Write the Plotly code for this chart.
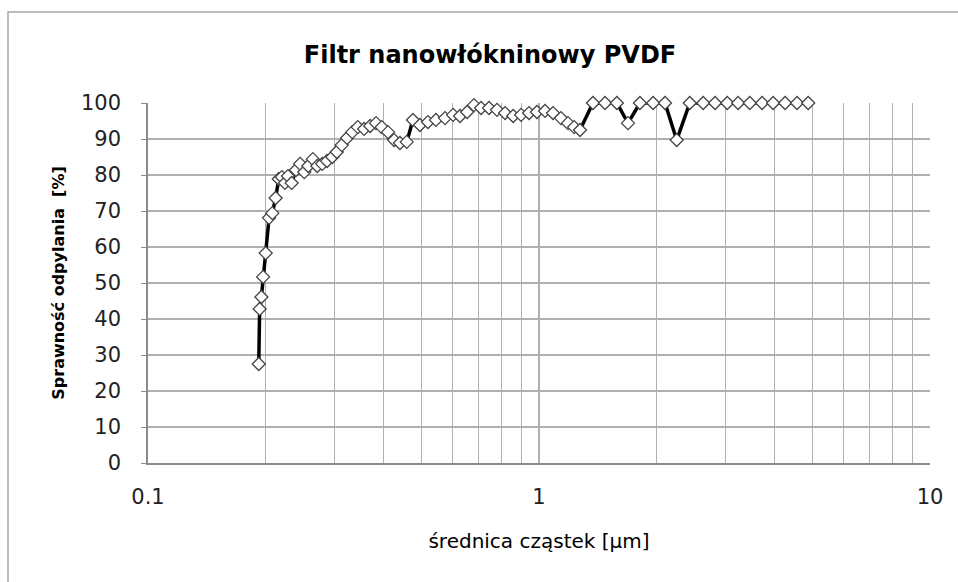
import plotly.graph_objects as go

title_text = "Filtr nanowłókninowy PVDF"
x_title = "średnica cząstek [µm]"
y_title = "Sprawność odpylania  [%]"

diameter_um = [
    0.192, 0.193, 0.195, 0.197, 0.200, 0.204, 0.208, 0.212, 0.216, 0.220,
    0.224, 0.228, 0.233, 0.239, 0.245, 0.251, 0.257, 0.264, 0.271, 0.279,
    0.287, 0.296, 0.304, 0.313, 0.323, 0.333, 0.344, 0.357, 0.370, 0.383,
    0.396, 0.411, 0.426, 0.441, 0.459, 0.476, 0.496, 0.520, 0.545, 0.575,
    0.603, 0.628, 0.655, 0.682, 0.711, 0.745, 0.781, 0.819, 0.859, 0.900,
    0.943, 0.988, 1.036, 1.086, 1.138, 1.186, 1.230, 1.273, 1.374, 1.475,
    1.582, 1.689, 1.812, 1.958, 2.10, 2.25, 2.43, 2.63, 2.82, 3.03,
    3.23, 3.46, 3.72, 3.97, 4.26, 4.57, 4.88,
]
efficiency_pct = [
    27.5, 42.8, 46.1, 51.7, 58.3, 68.1, 69.4, 73.6, 78.9, 79.4,
    77.8, 79.7, 77.8, 81.4, 83.1, 80.8, 82.5, 84.4, 82.5, 83.1,
    83.9, 85.0, 86.4, 88.3, 90.3, 91.9, 93.3, 92.8, 93.6, 94.4,
    93.3, 91.9, 89.7, 88.9, 89.2, 95.3, 93.9, 94.7, 95.3, 95.8,
    96.7, 96.4, 97.5, 99.4, 98.6, 98.6, 98.1, 97.2, 96.4, 96.7,
    97.2, 97.5, 97.8, 97.2, 95.8, 94.4, 93.3, 92.5, 100, 100,
    100, 94.4, 100, 100, 100, 89.7, 100, 100, 100, 100,
    100, 100, 100, 100, 100, 100, 100,
]
y_ticks = [0, 10, 20, 30, 40, 50, 60, 70, 80, 90, 100]
x_ticks = [0.1, 1, 10]
x_tick_labels = ["0.1", "1", "10"]

FONT = "DejaVu Sans"
GRID = "#b0b0b0"

fig = go.Figure()
fig.add_trace(go.Scatter(
    x=diameter_um, y=efficiency_pct, mode="lines+markers",
    line=dict(color="black", width=3.5),
    marker=dict(symbol="diamond", size=10, color="white",
                line=dict(color="#444444", width=1.3)),
    cliponaxis=False,
    showlegend=False,
))

fig.update_layout(
    width=958, height=582,
    margin=dict(l=148, r=28, t=103, b=119),
    paper_bgcolor="white", plot_bgcolor="white",
    font=dict(family=FONT, size=21, color="#222"),
    title=dict(text="<b>" + title_text + "</b>", x=490 / 958, xanchor="center",
               xref="container", y=1 - 55 / 582, yanchor="middle",
               font=dict(family=FONT, size=24, color="black")),
    xaxis=dict(
        type="log", range=[-1, 1], tickvals=x_ticks, ticktext=x_tick_labels,
        showgrid=True, gridcolor=GRID, gridwidth=1.5,
        minor=dict(dtick="D1", showgrid=True, gridcolor=GRID, gridwidth=1.2),
        showline=True, linecolor="#8c8c8c", linewidth=1.5,
        ticks="", ticklabelstandoff=14, zeroline=False,
        title=dict(text=x_title, standoff=26,
                   font=dict(family=FONT, size=20, color="black")),
    ),
    yaxis=dict(
        range=[0, 100], tickvals=y_ticks,
        showgrid=True, gridcolor=GRID, gridwidth=1.5,
        showline=True, linecolor="#8c8c8c", linewidth=1.5,
        ticks="outside", ticklen=5, tickcolor="#8c8c8c",
        ticklabelstandoff=16, zeroline=False,
        title=dict(text="<b>" + y_title + "</b>", standoff=12,
                   font=dict(family=FONT, size=16, color="black")),
    ),
    shapes=[dict(type="rect", xref="paper", yref="paper",
                 x0=(8 - 148) / 782, x1=(975 - 148) / 782,
                 y0=(463 - 620) / 360, y1=(463 - 12) / 360,
                 line=dict(color="#a6a6a6", width=1.5), layer="below")],
)

fig.write_html("out.html")
